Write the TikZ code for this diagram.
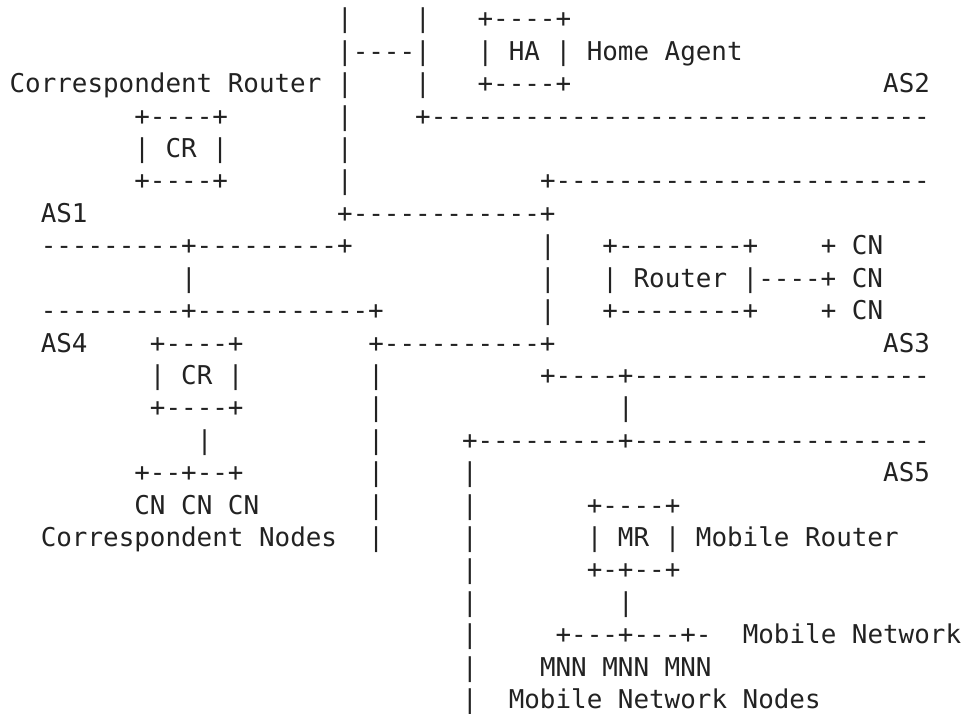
\documentclass[tikz,border=0pt]{standalone}
\usepackage{fontspec}
\setmonofont{DejaVu Sans Mono}
\definecolor{ink}{HTML}{222222}
\tikzset{
  t/.style={anchor=base west, inner sep=0pt, outer sep=0pt, text=ink,
            font=\ttfamily\fontsize{25.9}{30}\selectfont}
}
\begin{document}
\begin{tikzpicture}[x=15.6pt,y=-32.4pt]
\useasboundingbox[fill=white] (-0.615,0.136) rectangle (61.115,22.142);
% row 1
\node[t] (r1a) at (21,1) {|};
\node[t] (r1b) at (26,1) {|};
\node[t] (hatop) at (30,1) {+----+};
% row 2
\node[t] (r2a) at (21,2) {|----|};
\node[t] (ha) at (30,2) {| HA | Home Agent};
% row 3
\node[t] (crlabel) at (0,3) {Correspondent Router |};
\node[t] (r3b) at (26,3) {|};
\node[t] (habot) at (30,3) {+----+};
\node[t] (as2) at (56,3) {AS2};
% row 4
\node[t] (cr1top) at (8,4) {+----+};
\node[t] (r4b) at (21,4) {|};
\node[t] (as2line) at (26,4) {+--------------------------------};
% row 5
\node[t] (cr1) at (8,5) {| CR |};
\node[t] (r5b) at (21,5) {|};
% row 6
\node[t] (cr1bot) at (8,6) {+----+};
\node[t] (r6b) at (21,6) {|};
\node[t] (as3top) at (34,6) {+------------------------};
% row 7
\node[t] (as1) at (2,7) {AS1};
\node[t] (r7b) at (21,7) {+------------+};
% row 8
\node[t] (as1line) at (2,8) {---------+---------+};
\node[t] (r8b) at (34,8) {|};
\node[t] (rtop) at (38,8) {+--------+};
\node[t] (cn1) at (52,8) {+ CN};
% row 9
\node[t] (r9a) at (11,9) {|};
\node[t] (r9b) at (34,9) {|};
\node[t] (router) at (38,9) {| Router |----+ CN};
% row 10
\node[t] (as4line) at (2,10) {---------+-----------+};
\node[t] (r10b) at (34,10) {|};
\node[t] (rbot) at (38,10) {+--------+};
\node[t] (cn3) at (52,10) {+ CN};
% row 11
\node[t] (as4) at (2,11) {AS4};
\node[t] (cr2top) at (9,11) {+----+};
\node[t] (r11c) at (23,11) {+----------+};
\node[t] (as3) at (56,11) {AS3};
% row 12
\node[t] (cr2) at (9,12) {| CR |};
\node[t] (r12b) at (23,12) {|};
\node[t] (as3line) at (34,12) {+----+-------------------};
% row 13
\node[t] (cr2bot) at (9,13) {+----+};
\node[t] (r13b) at (23,13) {|};
\node[t] (r13c) at (39,13) {|};
% row 14
\node[t] (r14a) at (12,14) {|};
\node[t] (r14b) at (23,14) {|};
\node[t] (as5line) at (29,14) {+---------+-------------------};
% row 15
\node[t] (cnbus) at (8,15) {+--+--+};
\node[t] (r15b) at (23,15) {|};
\node[t] (r15c) at (29,15) {|};
\node[t] (as5) at (56,15) {AS5};
% row 16
\node[t] (cns) at (8,16) {CN CN CN};
\node[t] (r16b) at (23,16) {|};
\node[t] (r16c) at (29,16) {|};
\node[t] (mrtop) at (37,16) {+----+};
% row 17
\node[t] (cnlabel) at (2,17) {Correspondent Nodes};
\node[t] (r17b) at (23,17) {|};
\node[t] (r17c) at (29,17) {|};
\node[t] (mr) at (37,17) {| MR | Mobile Router};
% row 18
\node[t] (r18a) at (29,18) {|};
\node[t] (mrbot) at (37,18) {+-+--+};
% row 19
\node[t] (r19a) at (29,19) {|};
\node[t] (r19b) at (39,19) {|};
% row 20
\node[t] (r20a) at (29,20) {|};
\node[t] (mnbus) at (35,20) {+---+---+-};
\node[t] (mnlabel) at (47,20) {Mobile Network};
% row 21
\node[t] (r21a) at (29,21) {|};
\node[t] (mnns) at (34,21) {MNN MNN MNN};
% row 22
\node[t] (r22a) at (29,22) {|};
\node[t] (mnnlabel) at (32,22) {Mobile Network Nodes};
\end{tikzpicture}
\end{document}
